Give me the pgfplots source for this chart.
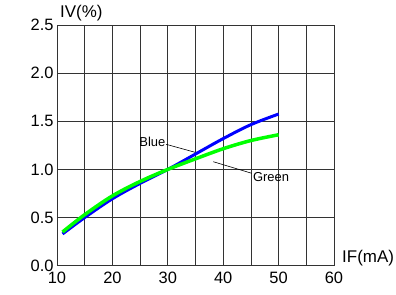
\documentclass[border=0pt]{standalone}
\usepackage{pgfplots}
\pgfplotsset{compat=1.18}
\usepackage{fontspec}
\setmainfont{Liberation Sans}
\begin{document}
\begin{tikzpicture}
\useasboundingbox (-57bp,-29.3bp) rectangle (339bp,265.7bp);
\begin{axis}[
  at={(0,0)}, anchor=origin,
  scale only axis, width=277bp, height=240.7bp,
  xmin=10, xmax=60, ymin=0, ymax=2.5,
  xtick={10,20,30,40,50,60},
  minor xtick={15,25,35,45,55},
  ytick={0,0.5,1.0,1.5,2.0,2.5},
  yticklabels={0.0,0.5,1.0,1.5,2.0,2.5},
  xticklabels={10,20,30,40,50,{\raisebox{-2bp}{60}}},
  major tick length=0pt, minor tick length=0pt,
  grid=both,
  major grid style={black!80, line width=0.8bp},
  minor grid style={black!80, line width=0.8bp},
  axis line style={black!80, line width=0.8bp},
  tick label style={font=\fontsize{16.5}{18}\selectfont},
  /pgf/number format/assume math mode=true,
  xticklabel style={yshift=-3bp},
  yticklabel style={xshift=0bp},
  clip=false,
]
\addplot[blue, line width=3bp, smooth, tension=0.55] coordinates {
 (11,0.33) (15,0.50) (20,0.695) (25,0.855) (30,1.00) (35,1.16) (40,1.32) (45,1.465) (50,1.575)};
\addplot[green, line width=3.5bp, smooth, tension=0.55] coordinates {
 (11,0.35) (15,0.53) (20,0.725) (25,0.875) (30,1.00) (35,1.11) (40,1.215) (45,1.30) (50,1.36)};
\draw[black, line width=0.6bp] (axis cs:29.68,1.261) -- (axis cs:34.91,1.178);
\draw[black, line width=0.6bp] (axis cs:38.21,1.080) -- (axis cs:45.14,0.960);
\node[anchor=east, inner sep=0pt, font=\fontsize{13}{15}\selectfont] at (axis cs:29.6,1.288) {Blue};
\node[anchor=west, inner sep=0pt, font=\fontsize{13}{15}\selectfont] at (axis cs:45.35,0.924) {Green};
\end{axis}
\node[anchor=west, inner sep=0pt, font=\fontsize{17}{19}\selectfont] at (3bp,252.7bp) {IV(\%)};
\node[anchor=west, inner sep=0pt, font=\fontsize{17}{19}\selectfont] at (285bp,7.7bp) {IF(mA)};
\end{tikzpicture}
\end{document}
